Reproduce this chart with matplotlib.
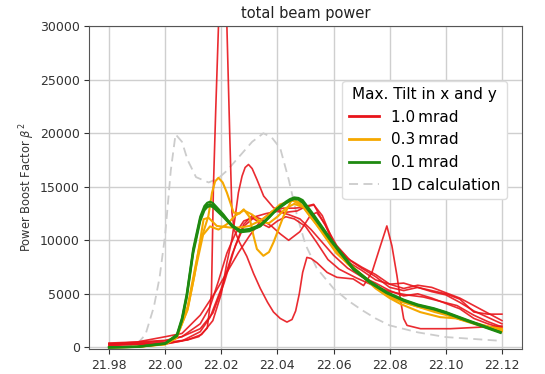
import matplotlib
matplotlib.use("Agg")
import matplotlib.pyplot as plt

# ---- 1D calculation (reference curve) ----
x_1d = [21.98, 21.985, 21.99, 21.993, 21.996, 21.998, 22.000, 22.002, 22.0037, 22.006,
        22.008, 22.011, 22.0155, 22.019, 22.022, 22.025, 22.028, 22.031, 22.035, 22.038,
        22.041, 22.044, 22.047, 22.050, 22.054, 22.060, 22.065, 22.070, 22.075, 22.080,
        22.090, 22.100, 22.110, 22.120]
y_1d = [0, 60, 300, 1200, 3800, 6500, 10500, 16500, 19900, 19200,
        17500, 15900, 15400, 15800, 16500, 17400, 18300, 19200, 20000, 19600,
        18600, 15700, 12300, 9600, 7400, 5500, 4400, 3500, 2700, 2050,
        1400, 960, 780, 600]

# ---- 1.0 mrad runs ----
x_r1 = [21.98, 21.99, 22.00, 22.008, 22.012, 22.015, 22.0165, 22.0172, 22.018, 22.019,
        22.0205, 22.022, 22.023, 22.0238, 22.0246, 22.0265, 22.0291, 22.0315, 22.0339,
        22.0365, 22.0386, 22.041, 22.0434, 22.0452, 22.0465, 22.0478, 22.049, 22.0505,
        22.052, 22.0541, 22.0577, 22.0612, 22.067, 22.0707, 22.0737, 22.0767, 22.079,
        22.0808, 22.0826, 22.0838, 22.085, 22.0862, 22.091, 22.1016, 22.1135, 22.120]
y_r1 = [300, 250, 300, 700, 1000, 1800, 5000, 15000, 22000, 30000,
        37000, 30000, 20000, 12600, 11000, 9800, 8500, 6900, 5500,
        4200, 3300, 2700, 2360, 2600, 3400, 5000, 7000, 8400,
        8300, 7900, 7000, 6540, 6390, 5770, 7010, 9480, 11340,
        9480, 6690, 4530, 2670, 2050, 1740, 1740, 1900, 1990]

x_r2 = [21.98, 21.99, 22.00, 22.008, 22.013, 22.017, 22.020, 22.022, 22.0238, 22.025,
        22.0261, 22.0274, 22.0285, 22.0297, 22.031, 22.0327, 22.0351, 22.0386, 22.0422,
        22.047, 22.0505, 22.0529, 22.0565, 22.0612, 22.066, 22.070, 22.075, 22.080,
        22.085, 22.090, 22.095, 22.100, 22.105, 22.110, 22.115, 22.120]
y_r2 = [200, 350, 450, 700, 1200, 2500, 5000, 7900, 10100, 12300,
        14450, 15990, 16800, 17080, 16700, 15680, 14130, 13050, 12590,
        12740, 13200, 13360, 11650, 9480, 8100, 7400, 6600, 5600,
        5300, 5600, 5200, 4900, 4200, 3400, 2800, 2200]

x_r3 = [21.98, 21.99, 22.00, 22.006, 22.0125, 22.017, 22.021, 22.025, 22.028, 22.031,
        22.034, 22.038, 22.041, 22.044, 22.048, 22.0517, 22.054, 22.057, 22.060, 22.065,
        22.070, 22.075, 22.080, 22.085, 22.090, 22.095, 22.100, 22.105, 22.110, 22.115,
        22.120]
y_r3 = [400, 500, 650, 1000, 1740, 3200, 6000, 9500, 11500, 12300,
        12000, 11300, 10600, 10000, 10800, 12300, 12600, 11500, 9600, 8000,
        7200, 6300, 5900, 6000, 5600, 5300, 5000, 4500, 3300, 3100,
        3100]

x_r4 = [21.98, 21.99, 22.00, 22.006, 22.0125, 22.018, 22.022, 22.026, 22.030, 22.034,
        22.038, 22.042, 22.046, 22.050, 22.053, 22.056, 22.060, 22.065, 22.070, 22.075,
        22.080, 22.085, 22.090, 22.095, 22.100, 22.105, 22.110, 22.115, 22.120]
y_r4 = [300, 500, 990, 1300, 3000, 5200, 7000, 8800, 10400, 11800,
        12700, 13000, 13000, 13100, 13300, 12300, 9800, 8300, 7500, 6800,
        5900, 5500, 5800, 5600, 5100, 4600, 3900, 3200, 2500]

x_r5 = [21.98, 21.99, 22.00, 22.006, 22.0125, 22.016, 22.020, 22.024, 22.028, 22.032,
        22.036, 22.040, 22.044, 22.048, 22.052, 22.056, 22.060, 22.065, 22.070, 22.075,
        22.080, 22.085, 22.090, 22.095, 22.100, 22.105, 22.110, 22.115, 22.120]
y_r5 = [150, 300, 340, 600, 1460, 2800, 5500, 8800, 11300, 12200,
        12500, 12700, 12400, 12000, 11000, 9800, 8600, 7400, 6600, 6000,
        5300, 4800, 5000, 4600, 4100, 3600, 2700, 2200, 1800]

x_r6 = [21.98, 21.99, 22.00, 22.006, 22.0125, 22.016, 22.019, 22.022, 22.025, 22.028,
        22.031, 22.034, 22.037, 22.040, 22.043, 22.046, 22.050, 22.054, 22.058, 22.062,
        22.068, 22.074, 22.080, 22.086, 22.092, 22.098, 22.104, 22.110, 22.115, 22.120]
y_r6 = [350, 400, 600, 1000, 2200, 3800, 6200, 8800, 10600, 11800,
        12100, 11600, 11200, 11800, 12200, 12000, 11300, 9800, 8200, 7300,
        6500, 5800, 5200, 4900, 4700, 4300, 3900, 3000, 2400, 1900]

# ---- 0.3 mrad runs ----
x_y1 = [21.98, 21.99, 22.00, 22.004, 22.008, 22.0105, 22.0125, 22.0154, 22.0167, 22.0178,
        22.019, 22.0205, 22.022, 22.0244, 22.0265, 22.028, 22.030, 22.0315, 22.0327,
        22.035, 22.037, 22.0386, 22.0422, 22.0452, 22.048, 22.052, 22.056, 22.060, 22.065,
        22.070, 22.075, 22.080, 22.0838, 22.0909, 22.098, 22.104, 22.110, 22.1159, 22.120]
y_y1 = [0, 50, 300, 900, 3800, 7200, 9800, 12270, 14450, 15500,
        15840, 15400, 14450, 12590, 12500, 12890, 12200, 10400, 9180,
        8550, 8900, 9800, 12270, 13830, 13500, 12100, 10800, 9300, 7800,
        6700, 5500, 4600, 4060, 3290, 2820, 2700, 2300, 1900, 1740]

x_y2 = [21.98, 21.99, 22.00, 22.004, 22.008, 22.0105, 22.0137, 22.0155, 22.0184, 22.0232,
        22.027, 22.030, 22.0336, 22.0363, 22.041, 22.0455, 22.049, 22.053, 22.057, 22.061,
        22.066, 22.070, 22.075, 22.080, 22.085, 22.090, 22.095, 22.100, 22.105, 22.110,
        22.115, 22.120]
y_y2 = [0, 40, 280, 850, 3600, 6800, 11970, 12100, 11340, 11190,
        11200, 11340, 11800, 12270, 13360, 13700, 13200, 11800, 10300, 8800,
        7600, 6800, 5700, 4700, 4200, 3800, 3500, 3100, 2600, 2200,
        1800, 1500]

x_y3 = [21.98, 21.99, 22.00, 22.004, 22.008, 22.011, 22.0135, 22.016, 22.019, 22.022,
        22.025, 22.028, 22.031, 22.034, 22.037, 22.040, 22.043, 22.046, 22.050, 22.054,
        22.058, 22.062, 22.067, 22.072, 22.078, 22.084, 22.090, 22.096, 22.102, 22.108,
        22.114, 22.120]
y_y3 = [0, 40, 300, 900, 3500, 7500, 10500, 11300, 11000, 11500,
        12300, 12800, 12400, 11700, 11600, 12200, 13000, 13400, 13000, 11800,
        10400, 8900, 7500, 6300, 5000, 4300, 3800, 3300, 2900, 2400,
        2000, 1600]

# ---- 0.1 mrad runs ----
x_g = [21.98, 21.99, 22.00, 22.0042, 22.006, 22.0077, 22.010, 22.0125, 22.014, 22.015,
       22.016, 22.017, 22.018, 22.0208, 22.024, 22.0267, 22.030, 22.0339, 22.037, 22.0398,
       22.043, 22.0445, 22.046, 22.0475, 22.049, 22.0529, 22.0553, 22.0588, 22.0624,
       22.0671, 22.0731, 22.079, 22.085, 22.090, 22.0957, 22.100, 22.1076, 22.113, 22.1195]
y_g1 = [0, 40, 350, 1120, 2600, 4830, 9000, 12000, 13000, 13300,
        13360, 13250, 13000, 12270, 11400, 10880, 10950, 11340, 12100, 12890,
        13500, 13750, 13900, 13850, 13600, 12270, 11400, 10110, 8870,
        7320, 6080, 5100, 4400, 3950, 3600, 3250, 2510, 2000, 1430]
y_g2 = [0, 50, 380, 1200, 2750, 5000, 9200, 12200, 13200, 13500,
        13600, 13480, 13200, 12400, 11300, 10750, 10850, 11300, 12150, 12950,
        13600, 13850, 14000, 13950, 13750, 12400, 11500, 10200, 8950,
        7400, 6150, 5150, 4450, 4000, 3650, 3300, 2560, 2050, 1400]
y_g3 = [0, 45, 330, 1050, 2500, 4650, 8800, 11800, 12800, 13100,
        13200, 13100, 12850, 12150, 11250, 10950, 11050, 11450, 12200, 12850,
        13450, 13700, 13850, 13800, 13500, 12150, 11300, 10000, 8800,
        7250, 6000, 5050, 4350, 3900, 3550, 3200, 2460, 1950, 1350]

x_ticks = [21.98, 22.00, 22.02, 22.04, 22.06, 22.08, 22.10, 22.12]
y_ticks = [0, 5000, 10000, 15000, 20000, 25000, 30000]

legend_title = "Max. Tilt in x and y"
labels = ["1.0\u2009mrad", "0.3\u2009mrad", "0.1\u2009mrad", "1D calculation"]

fig = plt.figure(figsize=(5.45, 3.74), dpi=100)
ax = fig.add_axes([0.164, 0.067, 0.793, 0.863])

ax.grid(True, color="#cfcfcf", lw=1.0)
ax.set_axisbelow(True)

h_1d, = ax.plot(x_1d, y_1d, color="#cccccc", lw=1.3, ls=(0, (5, 3)))

red_runs = [(x_r1, y_r1), (x_r2, y_r2), (x_r3, y_r3),
            (x_r4, y_r4), (x_r5, y_r5), (x_r6, y_r6)]
h_red = None
for xs, ys in red_runs:
    h, = ax.plot(xs, ys, color="#e8141a", lw=1.2, alpha=0.9)
    h_red = h_red or h

yellow_runs = [(x_y1, y_y1), (x_y2, y_y2), (x_y3, y_y3)]
h_yel = None
for xs, ys in yellow_runs:
    h, = ax.plot(xs, ys, color="#f5a800", lw=1.5)
    h_yel = h_yel or h

h_grn = None
for ys in (y_g1, y_g2, y_g3):
    h, = ax.plot(x_g, ys, color="#1e8a10", lw=1.6)
    h_grn = h_grn or h

ax.set_xlim(21.973, 22.127)
ax.set_ylim(-150, 30000)
ax.set_xticks(x_ticks)
ax.set_xticklabels([f"{v:.2f}" for v in x_ticks])
ax.set_yticks(y_ticks)
ax.tick_params(labelsize=9, colors="#333333", length=3.5)
for sp in ax.spines.values():
    sp.set_color("#555555")

ax.set_title("total beam power", fontsize=10.5, color="#222222", pad=6)
ax.set_ylabel(r"Power Boost Factor $\beta^2$", fontsize=8.3, color="#333333", labelpad=2)

leg = ax.legend([h_red, h_yel, h_grn, h_1d], labels, title=legend_title,
                loc="upper right", bbox_to_anchor=(0.966, 0.830),
                fontsize=11, title_fontsize=11, framealpha=1.0,
                edgecolor="#dddddd", borderaxespad=0.0)
for line in leg.get_lines()[:3]:
    line.set_linewidth(2.0)
    line.set_alpha(1.0)

fig.savefig("out.png", dpi=100)
